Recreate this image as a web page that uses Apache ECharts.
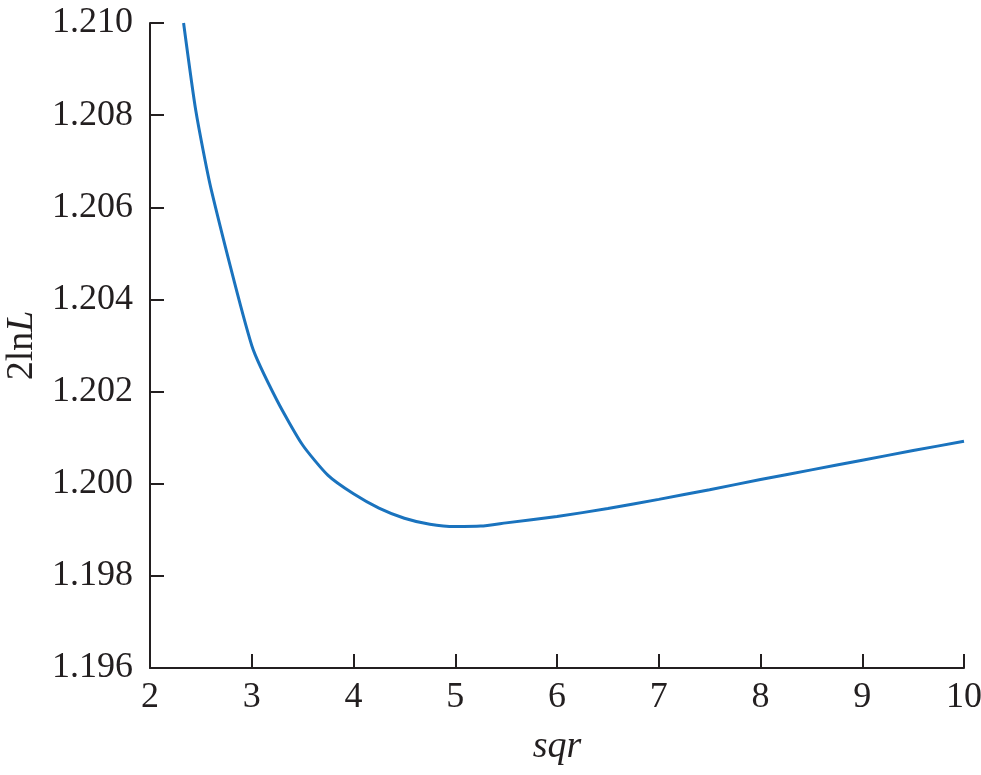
<!DOCTYPE html>
<html>
<head>
<meta charset="utf-8">
<script src="https://cdn.jsdelivr.net/npm/echarts@6/dist/echarts.min.js"></script>
<style>html,body{margin:0;padding:0;background:#fff;}#c{width:981px;height:775px;}</style>
</head>
<body>
<div id="c"></div>
<script>
const sqrValues = [2.33, 2.45, 2.6, 3.0, 3.25, 3.5, 3.75, 4.0, 4.25, 4.5, 4.75, 5.0, 5.25, 5.5, 6.0, 6.5, 7.0, 7.5, 8.0, 8.5, 9.0, 9.5, 10.0];
const lnLValues = [1.2100, 1.2081, 1.2064, 1.2030, 1.2018, 1.20084, 1.20018, 1.19978, 1.19947, 1.19925, 1.19912, 1.19907, 1.19908, 1.19915, 1.19929, 1.19946, 1.19966, 1.19987, 1.20009, 1.20030, 1.20051, 1.20072, 1.20092];
const xTicks = {min: 2, max: 10, interval: 1};
const yTicks = {min: 1.196, max: 1.210, interval: 0.002};

const data = sqrValues.map((x, i) => [x, lnLValues[i]]);
const axisColor = '#231f20';
const font = '"Liberation Serif", "Times New Roman", serif';
const chart = echarts.init(document.getElementById('c'), null, {renderer: 'canvas'});
chart.setOption({
  animation: false,
  backgroundColor: '#ffffff',
  grid: {left: 150, right: 17, top: 23, bottom: 107, containLabel: false, outerBoundsMode: 'none'},
  xAxis: {
    type: 'value', min: xTicks.min, max: xTicks.max, interval: xTicks.interval,
    name: 'sqr', nameLocation: 'middle', nameGap: 60,
    nameTextStyle: {fontFamily: font, fontSize: 38, fontStyle: 'italic', color: axisColor},
    axisLine: {show: true, lineStyle: {color: axisColor, width: 2}},
    axisTick: {show: true, inside: true, length: 14, lineStyle: {color: axisColor, width: 2}},
    axisLabel: {fontFamily: font, fontSize: 36, color: axisColor, margin: 12},
    splitLine: {show: false}
  },
  yAxis: {
    type: 'value', min: yTicks.min, max: yTicks.max, interval: yTicks.interval,
    name: '2ln{i|L}', nameLocation: 'middle', nameGap: 97, nameRotate: 90,
    nameTextStyle: {fontFamily: font, fontSize: 38, color: axisColor,
      rich: {i: {fontFamily: font, fontSize: 38, fontStyle: 'italic', color: axisColor}}},
    axisLine: {show: true, lineStyle: {color: axisColor, width: 2}},
    axisTick: {show: true, inside: true, length: 14, lineStyle: {color: axisColor, width: 2}},
    axisLabel: {fontFamily: font, fontSize: 36, color: axisColor, margin: 17,
      formatter: v => v.toFixed(3)},
    splitLine: {show: false}
  },
  series: [{
    type: 'line', data: data, showSymbol: false, smooth: 0.2,
    lineStyle: {color: '#1a73be', width: 3}
  }]
});
</script>
</body>
</html>
